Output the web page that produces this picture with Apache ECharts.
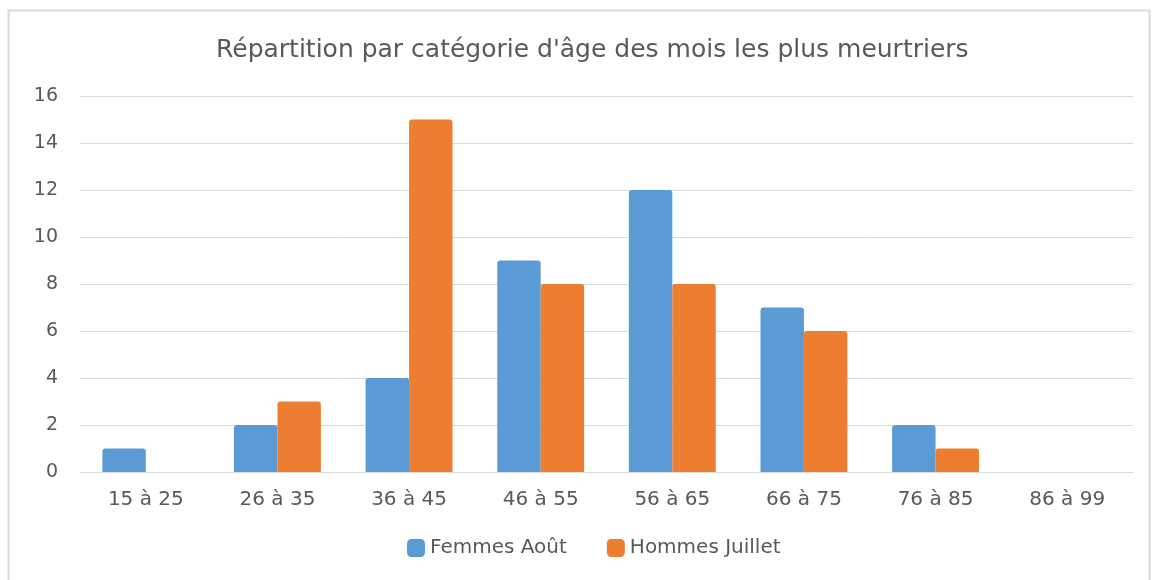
<!DOCTYPE html>
<html>
<head>
<meta charset="utf-8">
<script src="https://cdn.jsdelivr.net/npm/echarts@6/dist/echarts.min.js"></script>
<style>
  html, body { margin: 0; padding: 0; background: #fff; }
  #chart { width: 1152px; height: 580px; }
</style>
</head>
<body>
<div id="chart"></div>
<script>
var categories = ['15 à 25', '26 à 35', '36 à 45', '46 à 55', '56 à 65', '66 à 75', '76 à 85', '86 à 99'];
var femmesAout = [1, 2, 4, 9, 12, 7, 2, 0];
var hommesJuillet = [0, 3, 15, 8, 8, 6, 1, 0];
var yTicks = { min: 0, max: 16, interval: 2 };

var font = 'DejaVu Sans';
var textColor = '#595959';

var option = {
  textStyle: { fontFamily: font },
  title: {
    text: "Répartition par catégorie d'âge des mois les plus meurtriers",
    left: 211,
    top: 33,
    textStyle: { color: textColor, fontSize: 25, fontWeight: 'normal', fontFamily: font }
  },
  legend: {
    bottom: 17,
    left: 402,
    itemWidth: 18,
    itemHeight: 18,
    itemGap: 40,
    icon: 'roundRect',
    textStyle: { color: textColor, fontSize: 20, fontFamily: font },
    data: ['Femmes Août', 'Hommes Juillet']
  },
  grid: { left: 80, right: 19, top: 96, bottom: 108 },
  xAxis: {
    type: 'category',
    data: categories,
    axisTick: { show: false },
    axisLine: { lineStyle: { color: '#d9d9d9' } },
    axisLabel: { color: textColor, fontSize: 20, margin: 18, fontFamily: font }
  },
  yAxis: {
    type: 'value',
    min: yTicks.min,
    max: yTicks.max,
    interval: yTicks.interval,
    axisLine: { show: false },
    axisTick: { show: false },
    axisLabel: { color: textColor, fontSize: 19, margin: 22, fontFamily: font },
    splitLine: { lineStyle: { color: '#d9d9d9' } }
  },
  series: [
    {
      name: 'Femmes Août',
      type: 'bar',
      data: femmesAout,
      barGap: '0%',
      barCategoryGap: '34%',
      itemStyle: { color: '#5b9bd5', borderRadius: [3, 3, 0, 0] }
    },
    {
      name: 'Hommes Juillet',
      type: 'bar',
      data: hommesJuillet,
      itemStyle: { color: '#ed7d31', borderRadius: [3, 3, 0, 0] }
    }
  ],
  graphic: [{
    type: 'rect',
    shape: { x: 8.5, y: 10.5, width: 1141, height: 580 },
    style: { fill: 'none', stroke: '#d9d9d9', lineWidth: 2 },
    silent: true
  }]
};

var myChart = echarts.init(document.getElementById('chart'));
myChart.setOption(option, true);
</script>
</body>
</html>
